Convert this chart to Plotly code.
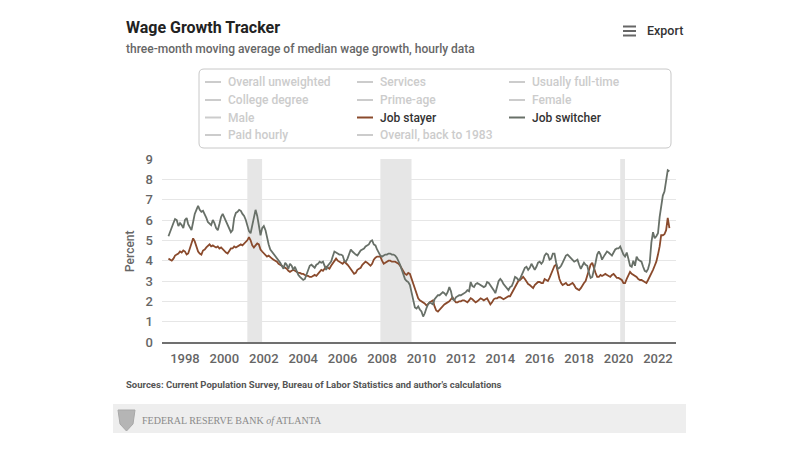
import plotly.graph_objects as go
import pandas as pd

# The page body has an 8px margin, so the figure is drawn 8px smaller and
# reference pixel coordinates are shifted by OFF.
OFF = 8
W, H = 800 - OFF, 449 - OFF
ML, MR, MT, MB = 162 - OFF, 124, 159 - OFF, 107

# ---------------- data (monthly, Mar 1997 - Aug 2022) ----------------
start_month = "1997-03-01"

job_switcher = [
    # 1997 Mar-Dec
    5.2, 5.45, 5.6, 5.85, 6.05, 6.0, 5.7, 5.85, 5.75, 5.6,
    # 1998
    6.0, 6.1, 5.8, 5.6, 5.5, 5.9, 6.3, 6.5, 6.7, 6.5, 6.4, 6.45,
    # 1999
    6.3, 6.1, 5.9, 5.8, 5.75, 6.0, 5.85, 5.6, 5.5, 5.8, 6.15, 6.3,
    # 2000
    6.1, 5.9, 5.7, 5.55, 5.4, 5.5, 6.1, 6.35, 6.4, 6.5, 6.45, 6.3,
    # 2001
    6.2, 6.0, 5.7, 5.45, 5.35, 5.7, 6.1, 6.5, 6.2, 5.7, 5.25, 5.6,
    # 2002
    5.7, 5.5, 5.1, 4.8, 4.55, 4.45, 4.3, 4.2, 4.1, 4.0, 3.9, 3.75,
    # 2003
    3.6, 3.9, 3.8, 3.6, 3.85, 3.75, 3.55, 3.7, 3.5, 3.3, 3.2, 3.1,
    # 2004
    3.05, 3.1, 3.3, 3.6, 3.75, 3.8, 3.7, 3.65, 3.8, 3.85, 3.95, 3.9,
    # 2005
    3.95, 3.7, 3.55, 3.75, 3.85, 3.95, 4.2, 4.45, 4.4, 4.35, 4.3, 4.3,
    # 2006
    4.25, 4.0, 3.95, 4.1, 4.3, 4.55, 4.45, 4.35, 4.3, 4.25, 4.4, 4.5,
    # 2007
    4.55, 4.6, 4.7, 4.75, 4.8, 4.95, 5.0, 4.8, 4.75, 4.55, 4.4, 4.25,
    # 2008
    4.2, 4.25, 4.3, 4.3, 4.35, 4.35, 4.3, 4.3, 4.25, 4.15, 4.0, 3.8,
    # 2009
    3.55, 3.3, 3.1, 3.0, 2.95, 2.8, 2.4, 2.1, 1.7, 1.65, 1.75, 1.6,
    # 2010
    1.5, 1.25, 1.4, 1.65, 1.85, 1.95, 1.9, 1.85, 2.1, 2.2, 2.3, 2.3,
    # 2011
    2.4, 2.45, 2.4, 2.3, 2.45, 2.7, 2.5, 2.1, 2.05, 2.2, 2.25, 2.3,
    # 2012
    2.3, 2.35, 2.4, 2.45, 2.55, 2.5, 2.95, 2.75, 2.7, 2.85, 2.9, 2.85,
    # 2013
    2.8, 2.75, 2.7, 2.75, 2.95, 2.9, 2.8, 2.7, 2.55, 2.4, 2.7, 3.0,
    # 2014
    3.1, 3.0, 2.85, 2.75, 2.6, 2.55, 2.7, 2.75, 2.95, 3.2, 3.15, 3.05,
    # 2015
    3.1, 3.3, 3.45, 3.65, 3.7, 3.55, 3.65, 3.85, 3.7, 3.55, 3.7, 3.9,
    # 2016
    3.95, 3.85, 3.95, 4.25, 4.35, 4.3, 4.05, 4.1, 4.35, 4.35, 3.9, 3.6,
    # 2017
    3.65, 3.75, 3.9, 4.05, 4.25, 4.3, 4.2, 4.15, 4.0, 3.95, 4.0, 4.05,
    # 2018
    3.8, 3.6, 3.75, 3.9, 3.8, 3.75, 3.4, 3.15, 3.2, 3.5, 3.9, 4.3,
    # 2019
    4.45, 4.3, 4.05, 4.2, 4.35, 4.45, 4.4, 4.3, 4.25, 4.4, 4.55, 4.6,
    # 2020
    4.6, 4.7, 4.45, 4.3, 4.2, 4.4, 4.1, 3.75, 3.7, 4.0, 3.75, 4.2,
    # 2021
    4.05, 4.0, 3.95, 3.7, 3.5, 3.45, 3.6, 3.9, 4.9, 5.4, 5.1, 5.2,
    # 2022 Jan-Aug
    5.35, 6.15, 6.6, 7.2, 7.4, 7.9, 8.45, 8.4,
]

job_stayer = [
    # 1997 Mar-Dec
    4.1, 4.05, 4.0, 4.1, 4.25, 4.3, 4.35, 4.45, 4.4, 4.5,
    # 1998
    4.45, 4.3, 4.35, 4.6, 4.85, 5.1, 4.95, 4.7, 4.45, 4.35, 4.3, 4.5,
    # 1999
    4.55, 4.65, 4.75, 4.8, 4.7, 4.75, 4.7, 4.65, 4.7, 4.6, 4.65, 4.55,
    # 2000
    4.5, 4.4, 4.35, 4.5, 4.6, 4.6, 4.7, 4.65, 4.7, 4.75, 4.8, 4.75,
    # 2001
    4.85, 4.9, 5.0, 5.15, 5.0, 4.75, 4.65, 4.75, 4.85, 4.8, 4.55, 4.45,
    # 2002
    4.35, 4.25, 4.2, 4.25, 4.15, 4.1, 4.05, 4.0, 3.95, 3.85, 3.8, 3.75,
    # 2003
    3.7, 3.65, 3.6, 3.5, 3.45, 3.5, 3.55, 3.5, 3.45, 3.4, 3.4, 3.35,
    # 2004
    3.35, 3.3, 3.25, 3.25, 3.2, 3.2, 3.25, 3.3, 3.25, 3.35, 3.5, 3.55,
    # 2005
    3.5, 3.6, 3.7, 3.65, 3.6, 3.75, 3.85, 3.95, 4.1, 4.0, 3.95, 3.9,
    # 2006
    3.85, 3.95, 3.9, 3.8, 3.7, 3.6, 3.45, 3.35, 3.4, 3.55, 3.6, 3.65,
    # 2007
    3.8, 3.9, 3.95, 3.9, 3.8, 3.75, 3.85, 4.05, 4.15, 4.2, 4.2, 4.2,
    # 2008
    4.0, 3.85, 3.9, 3.95, 4.0, 4.0, 3.95, 3.95, 3.95, 3.9, 3.85, 3.75,
    # 2009
    3.6, 3.45, 3.35, 3.3, 3.4, 3.35, 3.1, 2.85, 2.6, 2.35, 2.15, 2.05,
    # 2010
    2.0, 1.95, 1.9, 1.8, 1.85, 1.95, 2.0, 2.05, 1.75, 1.55, 1.5, 1.6,
    # 2011
    1.7, 1.8, 1.85, 1.9, 1.95, 2.0, 2.1, 2.2, 2.05, 1.95, 1.95, 2.0,
    # 2012
    2.0, 2.05, 2.05, 2.0, 1.95, 2.05, 2.15, 2.1, 2.0, 1.95, 2.0, 2.1,
    # 2013
    2.15, 2.1, 2.05, 2.1, 2.15, 2.0, 1.85, 1.95, 2.1, 2.15, 2.15, 2.2,
    # 2014
    2.2, 2.15, 2.1, 2.15, 2.2, 2.25, 2.25, 2.4, 2.6, 2.75, 2.9, 3.0,
    # 2015
    3.05, 3.15, 3.2, 3.1, 2.95, 2.85, 2.8, 2.7, 2.65, 2.8, 2.9, 2.95,
    # 2016
    2.95, 2.9, 2.9, 3.1, 3.05, 3.0, 3.15, 3.35, 3.6, 3.75, 3.8, 3.4,
    # 2017
    3.1, 2.9, 2.8, 2.85, 2.9, 2.8, 2.8, 2.85, 2.9, 2.8, 2.65, 2.6,
    # 2018
    2.55, 2.65, 2.8, 2.9, 3.0, 3.3, 3.55, 3.8, 3.9, 3.6, 3.4, 3.2,
    # 2019
    3.2, 3.3, 3.25, 3.3, 3.35, 3.3, 3.25, 3.2, 3.3, 3.35, 3.25, 3.15,
    # 2020
    3.15, 3.1, 3.05, 2.9, 2.9, 3.1, 3.3, 3.45, 3.35, 3.3, 3.25, 3.2,
    # 2021
    3.1, 3.05, 3.05, 3.0, 2.95, 2.9, 3.05, 3.2, 3.35, 3.55, 3.75, 3.95,
    # 2022 Jan-Aug
    4.3, 4.7, 5.25, 5.25, 5.3, 5.5, 6.1, 5.6,
]

dates = pd.date_range(start_month, periods=len(job_switcher), freq="MS")

recessions = [("2001-03-01", "2001-11-30"), ("2007-12-01", "2009-06-30"), ("2020-02-01", "2020-04-30")]

legend_items = [
    "Overall unweighted", "Services", "Usually full-time",
    "College degree", "Prime-age", "Female",
    "Male", "Job stayer", "Job switcher",
    "Paid hourly", "Overall, back to 1983",
]

y_ticks = list(range(0, 10))

title_text = "Wage Growth Tracker"
subtitle_text = "three-month moving average of median wage growth, hourly data"
source_text = "Sources: Current Population Survey, Bureau of Labor Statistics and author's calculations"

# ---------------- styles ----------------
STAYER = "#8a4a2c"
SWITCHER = "#687068"
INACTIVE = "#cccccc"
FONT = "Roboto"
active_colors = {"Job stayer": STAYER, "Job switcher": SWITCHER}

PW = W - ML - MR
PH = H - MT - MB


def px(x):
    return (x - OFF - ML) / PW


def py(y):
    return (H - MB - (y - OFF)) / PH


fig = go.Figure()
fig.add_trace(go.Scatter(x=dates, y=job_stayer, mode="lines", name="Job stayer",
                         line=dict(color=STAYER, width=1.8), hoverinfo="x+y"))
fig.add_trace(go.Scatter(x=dates, y=job_switcher, mode="lines", name="Job switcher",
                         line=dict(color=SWITCHER, width=1.8), hoverinfo="x+y"))

shapes = []
for a, b in recessions:
    shapes.append(dict(type="rect", xref="x", yref="paper", x0=a, x1=b, y0=0, y1=1,
                       fillcolor="#e6e6e6", line=dict(width=0), layer="below"))

annotations = []
# title, subtitle
annotations.append(dict(text="<b>" + title_text + "</b>", x=px(124), y=py(27), xref="paper", yref="paper",
                        xanchor="left", yanchor="middle", showarrow=False,
                        font=dict(family=FONT, size=16, color="#222222")))
annotations.append(dict(text=subtitle_text, x=px(124), y=py(49), xref="paper", yref="paper",
                        xanchor="left", yanchor="middle", showarrow=False,
                        font=dict(family=FONT, size=12, color="#666666", weight=500)))
# export button
annotations.append(dict(text="Export", x=px(645), y=py(31), xref="paper", yref="paper",
                        xanchor="left", yanchor="middle", showarrow=False,
                        font=dict(family=FONT, size=12.5, color="#333333", weight=500)))
for yy in (26.5, 31, 35.5):
    shapes.append(dict(type="line", xref="paper", yref="paper", x0=px(623), x1=px(636),
                       y0=py(yy), y1=py(yy), line=dict(color="#666666", width=2)))


def rounded_rect(x0, y0, x1, y1, r):
    pts = [
        f"M {px(x0 + r)} {py(y0)}",
        f"L {px(x1 - r)} {py(y0)}",
        f"Q {px(x1)} {py(y0)} {px(x1)} {py(y0 + r)}",
        f"L {px(x1)} {py(y1 - r)}",
        f"Q {px(x1)} {py(y1)} {px(x1 - r)} {py(y1)}",
        f"L {px(x0 + r)} {py(y1)}",
        f"Q {px(x0)} {py(y1)} {px(x0)} {py(y1 - r)}",
        f"L {px(x0)} {py(y0 + r)}",
        f"Q {px(x0)} {py(y0)} {px(x0 + r)} {py(y0)}",
        "Z",
    ]
    return " ".join(pts)


# legend box
shapes.append(dict(type="path", xref="paper", yref="paper", path=rounded_rect(199, 69, 671, 148, 5),
                   line=dict(color="#c8c8c8", width=1), fillcolor="rgba(0,0,0,0)", layer="above"))
col_x = [205, 357, 509]
row_y = [82, 100, 117.5, 135]
for i, name in enumerate(legend_items):
    cx = col_x[i % 3]
    ry = row_y[i // 3]
    c = active_colors.get(name, INACTIVE)
    tc = "#333333" if name in active_colors else INACTIVE
    shapes.append(dict(type="line", xref="paper", yref="paper", x0=px(cx), x1=px(cx + 16),
                       y0=py(ry), y1=py(ry), line=dict(color=c, width=2)))
    annotations.append(dict(text=name, x=px(cx + 21), y=py(ry), xref="paper", yref="paper",
                            xanchor="left", yanchor="middle", showarrow=False,
                            font=dict(family=FONT, size=12, color=tc, weight=500)))

# y-axis title
annotations.append(dict(text="Percent", x=px(130), y=py(251), xref="paper", yref="paper",
                        xanchor="center", yanchor="middle", showarrow=False, textangle=-90,
                        font=dict(family=FONT, size=12, color="#666666", weight=500)))

# sources
annotations.append(dict(text="<b>" + source_text + "</b>", x=px(124), y=py(384), xref="paper", yref="paper",
                        xanchor="left", yanchor="middle", showarrow=False,
                        font=dict(family=FONT, size=9.5, color="#555555")))

# footer band
shapes.append(dict(type="rect", xref="paper", yref="paper", x0=px(113), x1=px(686), y0=py(433), y1=py(404),
                   fillcolor="#eeeeee", line=dict(width=0), layer="above"))
# logo (simple emblem)
logo = "M {} {} L {} {} L {} {} L {} {} L {} {} Z".format(
    px(118), py(410), px(135), py(410), px(133), py(424), px(126.5), py(431), px(120), py(424))
shapes.append(dict(type="path", xref="paper", yref="paper", path=logo,
                   fillcolor="#b5b5b5", line=dict(color="#a8a8a8", width=1), layer="above"))
annotations.append(dict(text="FEDERAL RESERVE BANK <i>of</i> ATLANTA", x=px(140), y=py(420),
                        xref="paper", yref="paper", xanchor="left", yanchor="middle", showarrow=False,
                        font=dict(family="Liberation Serif", size=10, color="#8a8a8a")))

fig.update_layout(
    width=W, height=H,
    margin=dict(l=ML, r=MR, t=MT, b=MB, pad=0),
    paper_bgcolor="white", plot_bgcolor="white",
    showlegend=False,
    shapes=shapes, annotations=annotations,
    font=dict(family=FONT, color="#666666"),
    xaxis=dict(type="date", range=["1996-11-01", "2022-12-01"],
               tick0="1998-01-01", dtick="M24", tickformat="%Y",
               showgrid=False, zeroline=False, showline=True, linecolor="#707070", linewidth=2,
               ticks="", ticklabelstandoff=3,
               tickfont=dict(family=FONT, size=13, color="#666666", weight=500)),
    yaxis=dict(range=[0, 9], tickvals=y_ticks, showgrid=True, gridcolor="#e6e6e6", gridwidth=1,
               zeroline=False, showline=False, ticks="", ticklabelstandoff=8,
               tickfont=dict(family=FONT, size=13, color="#666666", weight=500)),
)

fig.write_html("out.html")
